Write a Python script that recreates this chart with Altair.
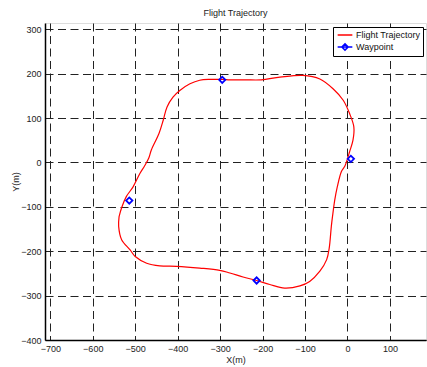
import altair as alt
import pandas as pd

traj_x = [-538, -532, -521, -505, -489, -478, -468, -462, -444, -434, -425, -411, -395, -371, -348, -324,
          -295, -277, -240, -203, -159, -105, -65, -34, -10, 5, 15, 13, 5, 0, -6, -14, -24, -30, -35, -38,
          -43, -49, -65, -89, -112, -148, -183, -214, -246, -277, -301, -348, -403, -442, -473, -500, -512,
          -532, -539, -538]
traj_y = [-122, -102, -77, -55, -25, -8, 10, 28, 65, 95, 125, 147, 162, 177, 185, 187,
          187, 186, 186, 186, 192, 196, 188, 166, 140, 110, 80, 50, 24, 8, -8, -20, -55, -85, -120, -144,
          -193, -219, -245, -268, -278, -283, -275, -266, -258, -249, -243, -238, -234, -233, -227, -212, -197,
          -174, -144, -122]
wp_x = [-295, 8, -514, -214]
wp_y = [186, 8, -86, -266]
x_ticks = [-700, -600, -500, -400, -300, -200, -100, 0, 100]
y_ticks = [-400, -300, -200, -100, 0, 100, 200, 300]

traj = pd.DataFrame({"x": traj_x, "y": traj_y, "i": list(range(len(traj_x))), "s": "Flight Trajectory"})
wp = pd.DataFrame({"x": wp_x, "y": wp_y, "s": "Waypoint"})

FONT = "Liberation Sans"
xs = alt.Scale(domain=[-712.5, 185], nice=False, zero=False)
ys = alt.Scale(domain=[-400, 314], nice=False, zero=False)
color = alt.Color(
    "s:N",
    scale=alt.Scale(domain=["Flight Trajectory", "Waypoint"], range=["#ff0000", "#0000ff"]),
    legend=alt.Legend(
        title=None, orient="none", legendX=288, legendY=4, padding=2, rowPadding=0,
        fillColor="white", strokeColor="black",
        labelFont=FONT, labelFontSize=9, labelColor="#111",
        symbolSize=110, symbolStrokeWidth=1.5, labelOffset=5, symbolOffset=4,
        symbolType=alt.ExprRef("datum.value === 'Waypoint' ? 'M-1.4,0H1.4M0,-0.6L0.6,0L0,0.6L-0.6,0Z' : 'M-1.4,0H1.4'"),
    ),
)

xaxis = alt.Axis(values=x_ticks, title="X(m)", grid=True, gridDash=[8, 4.5], gridColor="#222", gridWidth=1,
                 gridOpacity=1, domainColor="black", domainWidth=1.5, ticks=False, labelPadding=4,
                 labelFont=FONT, labelFontSize=9, labelColor="#222", titleFont=FONT, titleFontSize=9,
                 titleFontWeight="normal", titleColor="#222", titlePadding=2)
yaxis = alt.Axis(values=y_ticks, title="Y(m)", grid=True, gridDash=[8, 4.5], gridColor="#222", gridWidth=1,
                 gridOpacity=1, domainColor="black", domainWidth=1.5, ticks=False, labelPadding=4,
                 labelFont=FONT, labelFontSize=9, labelColor="#222", titleFont=FONT, titleFontSize=9,
                 titleFontWeight="normal", titleColor="#222", titlePadding=0)

line = alt.Chart(traj).mark_line(strokeWidth=1.2, interpolate="catmull-rom", clip=True).encode(
    x=alt.X("x:Q", scale=xs, axis=xaxis),
    y=alt.Y("y:Q", scale=ys, axis=yaxis),
    order="i:Q",
    color=color,
)
pts = alt.Chart(wp).mark_point(shape="diamond", filled=False, size=40, strokeWidth=1.8, opacity=1).encode(
    x=alt.X("x:Q", scale=xs),
    y=alt.Y("y:Q", scale=ys),
    color=color,
)

chart = alt.layer(line, pts).properties(
    width=381, height=317,
    title=alt.Title("Flight Trajectory", font=FONT, fontSize=9, fontWeight="normal", color="#222", offset=5),
    autosize=alt.AutoSizeParams(type="none"),
    padding={"left": 45, "top": 23, "right": 1, "bottom": 27},
).configure_view(stroke=None).configure(background="white")

chart.save("out.html", embed_options={"renderer": "svg", "actions": False})
